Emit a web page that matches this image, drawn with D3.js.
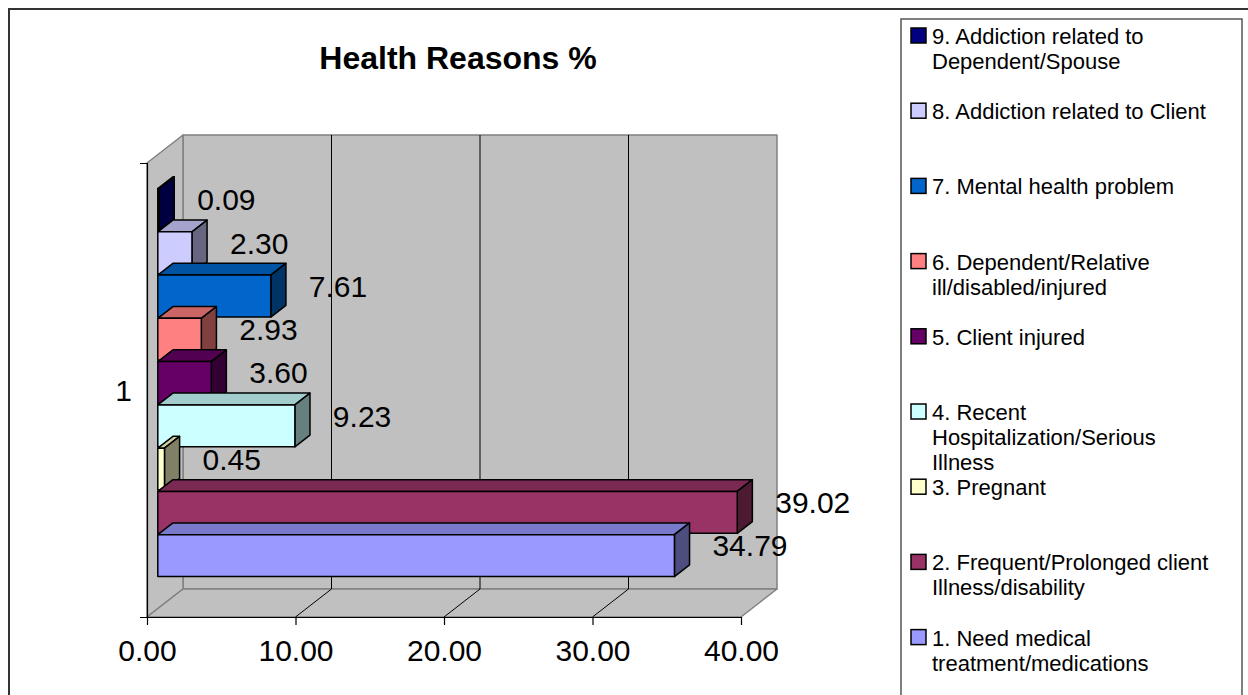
<!DOCTYPE html>
<html>
<head>
<meta charset="utf-8">
<script src="https://cdn.jsdelivr.net/npm/d3@7"></script>
<style>
  body { margin: 0; background: #fff; }
  svg { display: block; font-family: "Liberation Sans", Arial, sans-serif; }
</style>
</head>
<body>
<svg id="chart" width="1248" height="695"></svg>
<script>
// data
const categories = ["1"];
const seriesNames = [
    "1. Need medical treatment/medications",
    "2. Frequent/Prolonged client Illness/disability",
    "3. Pregnant",
    "4. Recent Hospitalization/Serious Illness",
    "5. Client injured",
    "6. Dependent/Relative ill/disabled/injured",
    "7. Mental health problem",
    "8. Addiction related to Client",
    "9. Addiction related to Dependent/Spouse"
];
const seriesValues = [34.79, 39.02, 0.45, 9.23, 3.60, 2.93, 7.61, 2.30, 0.09];
const tickValues = [0, 10, 20, 30, 40];
const titleText = "Health Reasons %";

// excel 2003 palette
const colors = ["#9999FF", "#993366", "#FFFFCC", "#CCFFFF", "#660066", "#FF8080", "#0066CC", "#CCCCFF", "#000080"];

const svg = d3.select("#chart");
const fmt = d3.format(".2f");

// front plane of the plot + depth offset
const X0 = 147, X1 = 741, Y0 = 163, Y1 = 617;
const DX = 36, DY = -28;
const d0 = 0.3, d1 = 0.72; // bar depth (front, back)

const x = d3.scaleLinear().domain([0, 40]).range([X0, X1]);
const cat = d3.scaleBand().domain(categories).range([Y0, Y1]);
const ser = d3.scaleBand()
    .domain(d3.range(seriesValues.length).reverse())
    .range([cat(categories[0]) + 34, cat(categories[0]) + cat.bandwidth() - 32])
    .paddingInner(0.03);

function P(v, y, d) { return [x(v) + DX * d, y + DY * d]; }
function poly(pts) { return pts.map(p => p.join(",")).join(" "); }
function shade(c, k) {
    const r = d3.rgb(c);
    return d3.rgb(r.r * k, r.g * k, r.b * k).toString();
}

// chart frame
svg.append("rect")
    .attr("x", 9).attr("y", 9).attr("width", 1300).attr("height", 800)
    .attr("fill", "#fff").attr("stroke", "#333").attr("stroke-width", 2);

// walls
const walls = svg.append("g")
    .attr("fill", "#C0C0C0").attr("stroke", "#808080").attr("stroke-width", 1.5)
    .attr("stroke-linejoin", "round");
walls.append("polygon").attr("points", poly([P(0, Y0, 1), P(40, Y0, 1), P(40, Y1, 1), P(0, Y1, 1)]));
walls.append("polygon").attr("points", poly([P(0, Y0, 0), P(0, Y0, 1), P(0, Y1, 1), P(0, Y1, 0)]));
walls.append("polygon").attr("points", poly([P(0, Y1, 0), P(40, Y1, 0), P(40, Y1, 1), P(0, Y1, 1)]));

// gridlines
const grid = svg.append("g").attr("stroke", "#000").attr("stroke-width", 1);
tickValues.filter(v => v > 0 && v < 40).forEach(v => {
    const a = P(v, Y0, 1), b = P(v, Y1, 1), f = P(v, Y1, 0);
    grid.append("line").attr("x1", a[0]).attr("y1", a[1]).attr("x2", b[0]).attr("y2", b[1]);
    grid.append("line").attr("x1", b[0]).attr("y1", b[1]).attr("x2", f[0]).attr("y2", f[1]);
});

// axes
const xAxis = svg.append("g")
    .attr("transform", `translate(0,${Y1})`)
    .call(d3.axisBottom(x).tickValues(tickValues).tickFormat(fmt)
        .tickSizeInner(8).tickSizeOuter(0).tickPadding(15));
const yAxis = svg.append("g")
    .attr("transform", `translate(${X0},0)`)
    .call(d3.axisLeft(cat).tickSizeInner(0).tickSizeOuter(7).tickPadding(15));
[xAxis, yAxis].forEach(g => {
    g.selectAll("path, line").attr("stroke", "#000").attr("stroke-width", 1.2);
    g.selectAll("text").attr("font-size", 30).attr("fill", "#000")
        .attr("font-family", "Liberation Sans, Arial, sans-serif");
});
yAxis.selectAll("text").attr("dy", "0.36em");

// bars, top series first so lower ones overlap
const bars = svg.append("g").attr("stroke", "#000").attr("stroke-width", 1.5)
    .attr("stroke-linejoin", "round");
d3.range(seriesValues.length).reverse().forEach(i => {
    const v = seriesValues[i];
    const t = ser(i), b = ser(i) + ser.bandwidth();
    const g = bars.append("g");
    g.append("polygon").attr("fill", shade(colors[i], 0.8))
        .attr("points", poly([P(0, t, d0), P(v, t, d0), P(v, t, d1), P(0, t, d1)]));
    g.append("polygon").attr("fill", shade(colors[i], 0.5))
        .attr("points", poly([P(v, t, d0), P(v, t, d1), P(v, b, d1), P(v, b, d0)]));
    g.append("polygon").attr("fill", colors[i])
        .attr("points", poly([P(0, t, d0), P(v, t, d0), P(v, b, d0), P(0, b, d0)]));
});

// data labels
svg.append("g").selectAll("text")
    .data(seriesValues)
    .join("text")
    .attr("x", d => P(d, 0, d0)[0] + 38)
    .attr("y", (d, i) => P(d, ser(i) + ser.bandwidth() / 2, d0)[1] - 10)
    .attr("dy", "0.36em")
    .attr("font-size", 30)
    .text(d => fmt(d));

// title
svg.append("text")
    .attr("x", 458).attr("y", 69)
    .attr("text-anchor", "middle")
    .attr("font-size", 32).attr("font-weight", "bold")
    .text(titleText);

// legend
svg.append("rect")
    .attr("x", 901).attr("y", 19).attr("width", 341).attr("height", 800)
    .attr("fill", "#fff").attr("stroke", "#555").attr("stroke-width", 1.5);

const legend = svg.append("g");
const order = d3.range(seriesNames.length).reverse();
order.forEach((i, k) => {
    const base = 44 + k * 75.2;
    legend.append("rect")
        .attr("x", 911).attr("y", base - 16).attr("width", 15).attr("height", 15)
        .attr("fill", colors[i]).attr("stroke", "#000").attr("stroke-width", 1.5);
    const txt = legend.append("text").attr("x", 932).attr("y", base).attr("font-size", 22);
    // word wrap like excel does
    const words = seriesNames[i].split(" ");
    let line = [], lineNo = 0;
    let ts = txt.append("tspan").attr("x", 932).attr("y", base);
    words.forEach(w => {
        line.push(w);
        ts.text(line.join(" "));
        if (ts.node().getComputedTextLength() > 282 && line.length > 1) {
            line.pop();
            ts.text(line.join(" "));
            line = [w];
            lineNo++;
            ts = txt.append("tspan").attr("x", 932).attr("y", base + lineNo * 25).text(w);
        }
    });
});
</script>
</body>
</html>
